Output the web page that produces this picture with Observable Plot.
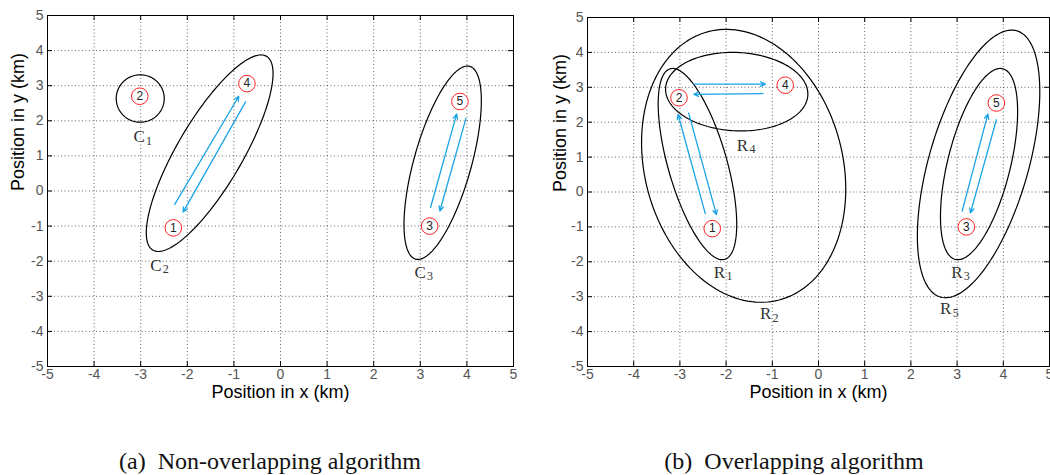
<!DOCTYPE html>
<html><head><meta charset="utf-8">
<script src="https://cdn.jsdelivr.net/npm/d3@7"></script>
<script src="https://cdn.jsdelivr.net/npm/@observablehq/plot@0.6"></script>
<style>
body{margin:0;background:#fff;width:1050px;height:475px;overflow:hidden;font-family:"Liberation Sans",Arial,sans-serif}
#wrap{display:flex}
.panel{width:525px;height:475px;position:relative}
.panel svg{position:absolute;left:0;top:0;overflow:visible}
.cap{position:absolute;top:447px;font-family:"Liberation Serif","Times New Roman",serif;font-size:24px;line-height:28px;white-space:pre;color:#111;transform:translateX(-50%)}
</style></head><body>
<div id="wrap">
  <div class="panel" id="pa"><div class="cap" style="left:270px">(a)  Non-overlapping algorithm</div></div>
  <div class="panel" id="pb"><div class="cap" style="left:269px">(b)  Overlapping algorithm</div></div>
</div>
<script>
// axis ticks (km)
const tickVals = [-5,-4,-3,-2,-1,0,1,2,3,4,5];
const xLabel = "Position in x (km)";
const yLabel = "Position in y (km)";

// sensor nodes (same positions in both panels)
const nodeIds = ["1","2","3","4","5"];
const nodeX = [-2.30,-3.02,3.20,-0.72,3.85];
const nodeY = [-1.05,2.70,-1.00,3.06,2.55];

// panel (a) cluster ellipses: centre, half-width, half-height, tilt
const ellA_cx  = [-3.01,-1.52,3.48];
const ellA_cy  = [2.635,1.077,0.805];
const ellA_rx  = [0.515,1.36,0.83];
const ellA_ry  = [0.675,2.80,2.755];
const ellA_rho = [0,0.81,0.64];

// panel (a) cluster labels (letter + subscript)
const labA_main = ["C","C","C"];
const labA_sub  = ["1","2","3"];
const labA_x = [-2.97,-2.61,3.06];
const labA_y = [1.54,-2.12,-2.31];

// panel (a) arrows
const arrA_x1 = [-2.27,-0.75,3.22,3.98];
const arrA_y1 = [-0.38,2.54,-0.47,2.07];
const arrA_x2 = [-0.895,-2.09,3.78,3.42];
const arrA_y2 = [2.70,-0.60,2.19,-0.57];

// panel (b) cluster ellipses
const ellB_cx  = [-2.62,-1.62,3.475,-1.77,3.465];
const ellB_cy  = [0.80,0.75,0.80,2.875,0.805];
const ellB_rx  = [0.85,2.21,0.835,1.54,1.325];
const ellB_ry  = [2.74,3.91,2.74,1.125,3.835];
const ellB_rho = [-0.63,-0.17,0.55,-0.06,0.54];

// panel (b) cluster labels
const labB_main = ["R","R","R","R","R"];
const labB_sub  = ["1","2","3","4","5"];
const labB_x = [-2.08,-1.08,3.06,-1.58,2.82];
const labB_y = [-2.30,-3.49,-2.30,1.34,-3.35];

// panel (b) arrows
const arrB_x1 = [-2.70,-1.20,-2.45,-2.81,3.11,3.85];
const arrB_y1 = [3.09,2.82,-0.62,2.26,-0.55,2.07];
const arrB_x2 = [-1.15,-2.70,-3.04,-2.21,3.665,3.29];
const arrB_y2 = [3.09,2.80,2.22,-0.65,2.23,-0.60];

function ellipsePts(cx,cy,rx,ry,rho,id){
  const pts=[]; const n=160; const s=Math.sqrt(1-rho*rho);
  for(let i=0;i<n;i++){const t=2*Math.PI*i/n;
    pts.push({id, x:cx+rx*Math.cos(t), y:cy+ry*(rho*Math.cos(t)+s*Math.sin(t))});}
  return pts;
}

function panel(el, cfg){
  const W=525, H=410;
  const {mt, mb, ml, mr} = cfg;
  const pw=W-ml-mr, ph=H-mt-mb;
  const ells=[];
  cfg.cx.forEach((c,i)=>ells.push(...ellipsePts(c,cfg.cy[i],cfg.rx[i],cfg.ry[i],cfg.rho[i],i)));
  const nodes=nodeIds.map((d,i)=>({id:d,x:nodeX[i],y:nodeY[i]}));
  const labs=cfg.lm.map((t,i)=>({t,s:cfg.ls[i],x:cfg.lx[i],y:cfg.ly[i]}));
  const arrs=cfg.ax1.map((d,i)=>({x1:d,y1:cfg.ay1[i],x2:cfg.ax2[i],y2:cfg.ay2[i]}));
  const inner=tickVals.slice(1,-1);
  const serif="'Liberation Serif','DejaVu Serif',serif";
  const svg=Plot.plot({
    width:W,height:H,marginTop:mt,marginBottom:mb,marginLeft:ml,marginRight:mr,
    style:{fontFamily:"'Liberation Sans',Arial,sans-serif",background:"white",overflow:"visible"},
    x:{domain:[-5,5]}, y:{domain:[-5,5]},
    marks:[
      Plot.gridX(inner,{stroke:"#000",strokeOpacity:0.75,strokeDasharray:"1,2.5",strokeWidth:0.8}),
      Plot.gridY(inner,{stroke:"#000",strokeOpacity:0.75,strokeDasharray:"1,2.5",strokeWidth:0.8}),
      Plot.tickX(tickVals,{x:d=>d,insetTop:ph-5,stroke:"#000"}),
      Plot.tickX(tickVals,{x:d=>d,insetBottom:ph-5,stroke:"#000"}),
      Plot.tickY(tickVals,{y:d=>d,insetRight:pw-5,stroke:"#000"}),
      Plot.tickY(tickVals,{y:d=>d,insetLeft:pw-5,stroke:"#000"}),
      Plot.frame({stroke:"#000",strokeWidth:1}),
      Plot.axisX({ticks:tickVals,tickSize:0,tickPadding:3,fontSize:14,fill:"#555",tickFormat:d=>String(d),label:null}),
      Plot.axisY({ticks:tickVals,tickSize:0,tickPadding:4,fontSize:14,fill:"#555",tickFormat:d=>String(d),label:null}),
      Plot.text([xLabel],{frameAnchor:"bottom",dy:31,fontSize:18,fill:"#000"}),
      Plot.text([yLabel],{frameAnchor:"left",dx:cfg.ydx,rotate:-90,fontSize:18,fill:"#000"}),
      Plot.line(ells,{x:"x",y:"y",z:"id",curve:"linear-closed",stroke:"#000",strokeWidth:1.2}),
      Plot.arrow(arrs,{x1:"x1",y1:"y1",x2:"x2",y2:"y2",stroke:"#1aa3e6",strokeWidth:1.3,headLength:6,headAngle:50}),
      Plot.dot(nodes,{x:"x",y:"y",r:8.3,stroke:"#f22",fill:"white",strokeWidth:1}),
      Plot.text(nodes,{x:"x",y:"y",text:"id",fontSize:12,fill:"#222"}),
      Plot.text(labs,{x:"x",y:"y",text:"t",dx:-3,fontSize:17,fill:"#333",fontFamily:serif}),
      Plot.text(labs,{x:"x",y:"y",text:"s",dx:7,dy:4,fontSize:12,fill:"#333",fontFamily:serif})
    ]
  });
  el.prepend(svg);
}

panel(document.getElementById("pa"),{mt:15,mb:44,ml:47,mr:12,ydx:-29,
  cx:ellA_cx,cy:ellA_cy,rx:ellA_rx,ry:ellA_ry,rho:ellA_rho,
  lm:labA_main,ls:labA_sub,lx:labA_x,ly:labA_y,
  ax1:arrA_x1,ay1:arrA_y1,ax2:arrA_x2,ay2:arrA_y2});
panel(document.getElementById("pb"),{mt:17,mb:44,ml:62,mr:1,ydx:-27,
  cx:ellB_cx,cy:ellB_cy,rx:ellB_rx,ry:ellB_ry,rho:ellB_rho,
  lm:labB_main,ls:labB_sub,lx:labB_x,ly:labB_y,
  ax1:arrB_x1,ay1:arrB_y1,ax2:arrB_x2,ay2:arrB_y2});
</script>
</body></html>
